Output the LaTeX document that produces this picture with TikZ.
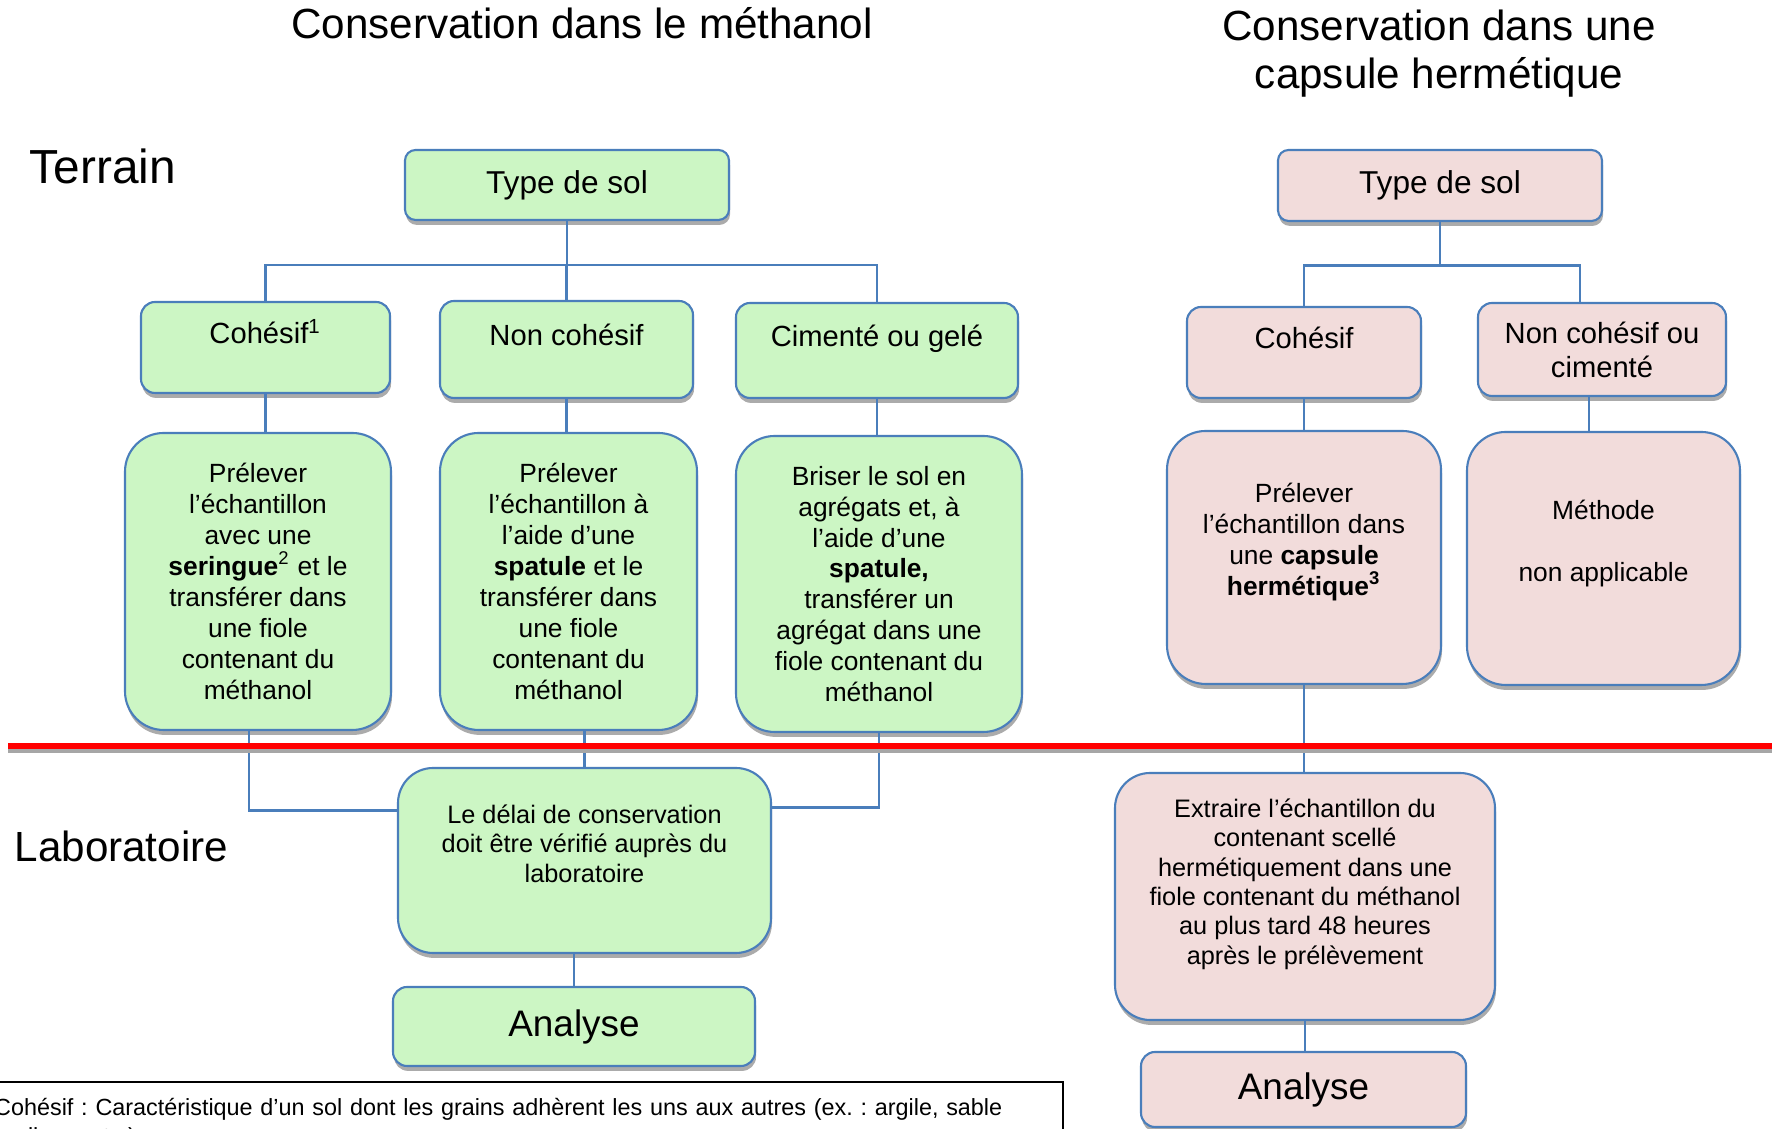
\documentclass[tikz,border=0pt]{standalone}
\usepackage{fontspec}
\setmainfont{Liberation Sans}
\usetikzlibrary{shadows}
\definecolor{cnsgreen}{RGB}{204,246,196}
\definecolor{cnspink}{RGB}{242,220,219}
\definecolor{cnsblue}{RGB}{74,126,187}
\definecolor{cnsred}{RGB}{255,0,0}
\frenchspacing

\begin{document}
\begin{tikzpicture}[
      box/.style={draw=cnsblue, line width=0.6pt, align=center, inner sep=2pt,
        drop shadow={shadow xshift=0.3pt, shadow yshift=-1.4pt, fill=black!55, opacity=0.6}},
      soltop/.style={box, rounded corners=3pt, font=\fontsize{9}{10.8}\selectfont},
      sollvl/.style={box, rounded corners=4pt, font=\fontsize{8.3}{9.7}\selectfont},
      solone/.style={sollvl, text height=6.5pt, text depth=9pt},
      solbig/.style={box, rounded corners=11pt, font=\fontsize{7.5}{8.8}\selectfont},
      sollab/.style={box, rounded corners=10pt, font=\fontsize{7.2}{8.35}\selectfont},
      solend/.style={box, rounded corners=4pt, font=\fontsize{10.5}{12}\selectfont},
      conn/.style={draw=cnsblue, line width=0.6pt}
    ]
      \useasboundingbox (0,0) rectangle (17.72,11.29);
      \clip (0,0) rectangle (17.72,11.29);

      \node[font=\fontsize{12}{14}\selectfont] (title1) at (5.82, 11.06) {Conservation dans le méthanol};
      \node[font=\fontsize{12}{13.7}\selectfont, align=center] (title2) at (14.39, 10.755) {Conservation dans une\\capsule hermétique};
      \node[font=\fontsize{13.6}{15}\selectfont, anchor=west, inner sep=0pt] (terrain) at (0.29, 9.63) {Terrain};
      \node[font=\fontsize{12}{14}\selectfont, anchor=west, inner sep=0pt] (labo) at (0.14, 2.83) {Laboratoire};

      % methanol
      \node[soltop, fill=cnsgreen, minimum width=3.24cm, minimum height=0.70cm] (typeL) at (5.67, 9.44) {Type de sol};
      \node[solone, fill=cnsgreen, minimum width=2.49cm, minimum height=0.91cm] (cohL) at (2.655, 7.815) {Cohésif\textsuperscript{1}};
      \node[solone, fill=cnsgreen, minimum width=2.53cm, minimum height=0.97cm] (ncohL) at (5.665, 7.795) {Non cohésif};
      \node[solone, fill=cnsgreen, minimum width=2.82cm, minimum height=0.95cm] (cimL) at (8.77, 7.785) {Cimenté ou gelé};
      \node[solbig, fill=cnsgreen, minimum width=2.66cm, minimum height=2.97cm] (preL1) at (2.58, 5.475) {
        Prélever\\l’échantillon\\avec une\\\textbf{seringue}\textsuperscript{2} et le\\transférer dans\\une fiole\\contenant du\\méthanol};
      \node[solbig, fill=cnsgreen, minimum width=2.57cm, minimum height=2.97cm] (preL2) at (5.685, 5.475) {
        Prélever\\l’échantillon à\\l’aide d’une\\\textbf{spatule} et le\\transférer dans\\une fiole\\contenant du\\méthanol};
      \node[solbig, fill=cnsgreen, minimum width=2.86cm, minimum height=2.96cm] (preL3) at (8.79, 5.45) {
        Briser le sol en\\agrégats et, à\\l’aide d’une\\\textbf{spatule,}\\transférer un\\agrégat dans une\\fiole contenant du\\méthanol};
      \node[sollab, fill=cnsgreen, minimum width=3.73cm, minimum height=1.85cm, text depth=9.7pt] (delay) at (5.845, 2.685) {
        Le délai de conservation\\doit être vérifié auprès du\\laboratoire};
      \node[solend, fill=cnsgreen, minimum width=3.62cm, minimum height=0.79cm] (anaL) at (5.74, 1.025) {Analyse};

      % capsule
      \node[soltop, fill=cnspink, minimum width=3.24cm, minimum height=0.71cm] (typeR) at (14.40, 9.435) {Type de sol};
      \node[solone, fill=cnspink, minimum width=2.34cm, minimum height=0.91cm] (cohR) at (13.04, 7.765) {Cohésif};
      \node[sollvl, fill=cnspink, minimum width=2.48cm, minimum height=0.93cm] (ncR) at (16.02, 7.795) {Non cohésif ou\\cimenté};
      \node[solbig, fill=cnspink, minimum width=2.74cm, minimum height=2.53cm, text depth=10.4pt] (capR) at (13.04, 5.715) {
        Prélever\\l’échantillon dans\\une \textbf{capsule}\\\textbf{hermétique\textsuperscript{3}}};
      \node[solbig, fill=cnspink, minimum width=2.73cm, minimum height=2.53cm, text depth=10.1pt] (meth) at (16.035, 5.705) {
        Méthode\\[8.7pt]non applicable};
      \node[sollab, fill=cnspink, minimum width=3.80cm, minimum height=2.47cm, text depth=8.6pt] (extR) at (13.05, 2.325) {
        Extraire l’échantillon du\\contenant scellé\\hermétiquement dans une\\fiole contenant du méthanol\\au plus tard 48 heures\\après le prélèvement};
      \node[solend, fill=cnspink, minimum width=3.25cm, minimum height=0.75cm] (anaR) at (13.035, 0.395) {Analyse};

      \node[draw=black, line width=0.7pt, anchor=north west, text width=10.56cm, inner xsep=0.13cm, inner ysep=4.6pt, align=left,
        font=\fontsize{6.65}{8.2}\selectfont] (note) at (-0.2, 0.48) {Cohésif : Caractéristique d’un sol dont les grains adhèrent les uns aux autres (ex. : argile, sable\\argileux, etc.)};

      \draw[conn] (typeL.south) -- ++(0,-0.44) coordinate (busL);
      \draw[conn] (cohL.north) |- (busL) -| (cimL.north);
      \draw[conn] (ncohL.north) -- (ncohL.north |- busL);
      \draw[conn] (cohL.south) -- (cohL.south |- preL1.north);
      \draw[conn] (ncohL.south) -- (ncohL.south |- preL2.north);
      \draw[conn] (cimL.south) -- (cimL.south |- preL3.north);
      \draw[conn] ([xshift=-0.9mm]preL1.south) |- ([yshift=5mm]delay.west);
      \draw[conn] (preL3.south) |- ([yshift=5.3mm]delay.east);
      \draw[conn] (delay.north) -- (delay.north |- preL2.south);
      \draw[conn] (anaL.north) -- (anaL.north |- delay.south);

      \draw[conn] (typeR.south) -- ++(0,-0.435) coordinate (busR);
      \draw[conn] (cohR.north) |- (busR) -| ([xshift=-2.2mm]ncR.north);
      \draw[conn] (cohR.south) -- (cohR.south |- capR.north);
      \draw[conn] ([xshift=-1.3mm]ncR.south) -- ([xshift=-1.3mm]ncR.south |- meth.north);
      \draw[conn] (capR.south) -- (capR.south |- extR.north);
      \draw[conn] (extR.south) -- (extR.south |- anaR.north);

      \draw[black!35, line width=1.4pt] (0.08, 3.785) -- (17.72, 3.785);
      \draw[cnsred, line width=1.6pt] (0.08, 3.83) -- (17.72, 3.83);
    \end{tikzpicture}
\end{document}
